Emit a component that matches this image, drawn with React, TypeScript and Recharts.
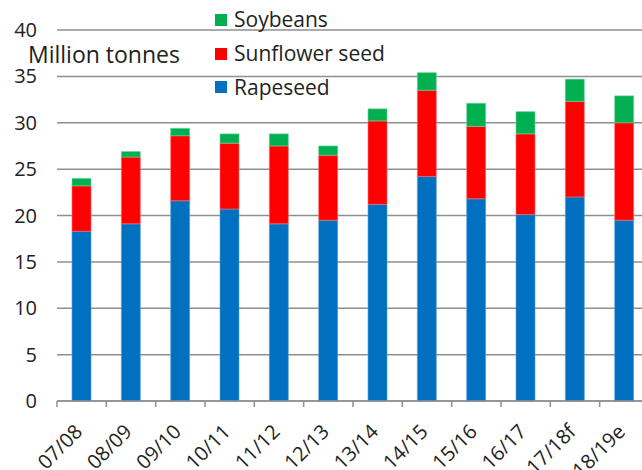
import React from 'react';
import { BarChart, Bar, XAxis, YAxis, CartesianGrid, Legend, Label } from 'recharts';

const categories = ['07/08', '08/09', '09/10', '10/11', '11/12', '12/13', '13/14', '14/15', '15/16', '16/17', '17/18f', '18/19e'];
const rapeseed = [18.3, 19.1, 21.6, 20.7, 19.1, 19.5, 21.2, 24.2, 21.8, 20.1, 22.0, 19.5];
const sunflower = [4.9, 7.2, 7.0, 7.1, 8.4, 7.0, 9.0, 9.3, 7.8, 8.7, 10.3, 10.5];
const soybeans = [0.8, 0.6, 0.8, 1.0, 1.3, 1.0, 1.3, 1.9, 2.5, 2.4, 2.4, 2.9];
const yTicks = [0, 5, 10, 15, 20, 25, 30, 35, 40];
const legendOrder = ['Soybeans', 'Sunflower seed', 'Rapeseed'];

const data = categories.map((c, i) => ({
  name: c,
  Rapeseed: rapeseed[i],
  'Sunflower seed': sunflower[i],
  Soybeans: soybeans[i],
}));

const FONT = '"Open Sans", sans-serif';
const CHART_W = 660;
const CHART_H = 470;
const MARGIN = { top: 30, right: 11, bottom: 0, left: 0 };
const Y_W = 57;
const X_H = 69;
const PLOT_W = CHART_W - MARGIN.left - MARGIN.right - Y_W;
const BAND = PLOT_W / categories.length;
const GRID = '#8f8f8f';

const XTick = (props: any) => {
  const { x, y, payload } = props;
  const ax = x + 2;
  const ay = y + 32;
  return (
    <g>
      <line x1={x - BAND / 2} x2={x - BAND / 2} y1={y} y2={y + 6} stroke={GRID} strokeWidth={1.5} />
      <text
        x={ax}
        y={ay}
        textAnchor="end"
        transform={`rotate(-45, ${ax}, ${ay})`}
        fontFamily={FONT}
        fontSize={20}
        fill="#222"
      >
        {payload.value}
      </text>
    </g>
  );
};

const LegendContent = (props: any) => {
  const items = [...(props.payload || [])].sort(
    (a: any, b: any) => legendOrder.indexOf(a.value) - legendOrder.indexOf(b.value)
  );
  return (
    <div style={{ fontFamily: FONT, fontSize: 21, color: '#222' }}>
      {items.map((it: any) => (
        <div key={it.value} style={{ height: 33.7, display: 'flex', alignItems: 'center' }}>
          <span style={{ display: 'inline-block', width: 12, height: 12, background: it.color, marginRight: 7 }} />
          <span style={{ lineHeight: 1 }}>{it.value}</span>
        </div>
      ))}
    </div>
  );
};

export default function App() {
  return (
    <div style={{ position: 'fixed', left: 0, top: 0, width: 642, height: 470, overflow: 'hidden', background: '#fff' }}>
      <BarChart width={CHART_W} height={CHART_H} data={data} margin={MARGIN} barSize={19} style={{ fontFamily: FONT }}>
        <CartesianGrid vertical={false} stroke={GRID} strokeWidth={1.5} />
        <XAxis
          dataKey="name"
          height={X_H}
          interval={0}
          tickLine={false}
          tickSize={0}
          tickMargin={0}
          axisLine={{ stroke: GRID, strokeWidth: 1.5 }}
          tick={<XTick />}
        />
        <YAxis
          width={Y_W}
          domain={[0, 40]}
          ticks={yTicks}
          interval={0}
          axisLine={false}
          tickLine={false}
          tickSize={0}
          tickMargin={20}
          tick={{ fontFamily: FONT, fontSize: 20, fill: '#222' }}
        >
          <Label
            content={() => (
              <text x={28} y={63} fontFamily={FONT} fontSize={23} fill="#222">
                Million tonnes
              </text>
            )}
          />
        </YAxis>
        <Legend
          layout="vertical"
          verticalAlign="middle"
          align="center"
          wrapperStyle={{ top: 3, left: 215, width: 'auto' }}
          content={<LegendContent />}
        />
        <Bar dataKey="Rapeseed" stackId="a" fill="#0070C0" stroke="#5fa0d8" strokeWidth={0.6} isAnimationActive={false} />
        <Bar dataKey="Sunflower seed" stackId="a" fill="#FF0000" stroke="#ff7070" strokeWidth={0.6} isAnimationActive={false} />
        <Bar dataKey="Soybeans" stackId="a" fill="#00B050" stroke="#70d09a" strokeWidth={0.6} isAnimationActive={false} />
      </BarChart>
    </div>
  );
}
